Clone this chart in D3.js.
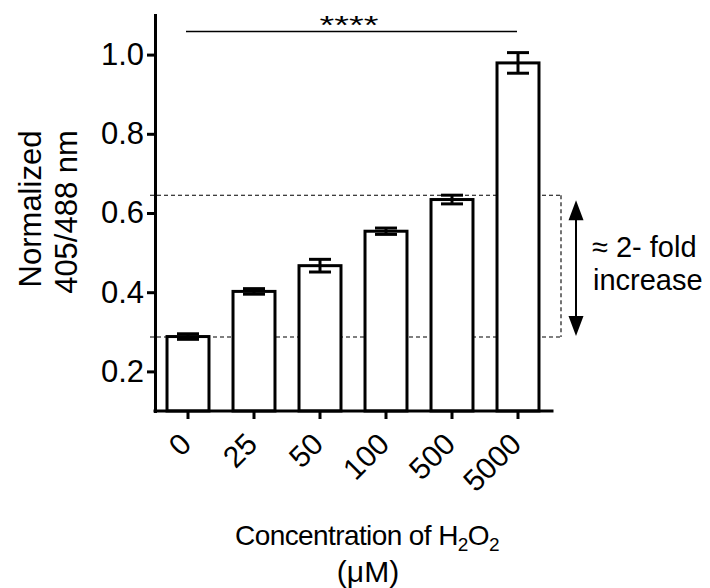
<!DOCTYPE html>
<html>
<head>
<meta charset="utf-8">
<script src="https://cdn.jsdelivr.net/npm/d3@7"></script>
<style>
  html, body { margin: 0; padding: 0; background: #fff; }
  svg { display: block; }
  text { font-family: "Liberation Sans", Arial, Helvetica, sans-serif; fill: #000; }
</style>
</head>
<body>
<svg id="chart" width="710" height="588"></svg>
<script>
// ---- data ----
const categories = ["0", "25", "50", "100", "500", "5000"];
const means = [0.288, 0.402, 0.467, 0.554, 0.634, 0.979];
const errors = [0.007, 0.007, 0.016, 0.008, 0.011, 0.026];
const yTicks = [0.2, 0.4, 0.6, 0.8, 1.0];
const yDomain = [0.1, 1.1];
const bracketLevels = [0.287, 0.645];   // dashed box bottom / top
const sigLabel = "****";
const foldLines = ["\u2248 2- fold", "increase"];

// ---- layout ----
const svg = d3.select("#chart");
const x = d3.scaleBand().domain(categories).range([155, 551])
  .paddingInner(0.364).paddingOuter(0.182);
const y = d3.scaleLinear().domain(yDomain).range([411, 15]);

const black = "#000";

// dashed box
const boxRight = 561;
svg.append("g").selectAll("line.hd").data(bracketLevels).join("line")
  .attr("x1", 150).attr("x2", boxRight)
  .attr("y1", d => y(d)).attr("y2", d => y(d))
  .attr("stroke", "#000").attr("stroke-width", 1.1)
  .attr("stroke-dasharray", "4,3");
svg.append("line")
  .attr("x1", boxRight).attr("x2", boxRight)
  .attr("y1", y(bracketLevels[1])).attr("y2", y(bracketLevels[0]))
  .attr("stroke", "#000").attr("stroke-width", 1.1)
  .attr("stroke-dasharray", "4,3");

// bars
svg.append("g").selectAll("rect").data(means).join("rect")
  .attr("x", (d, i) => x(categories[i]))
  .attr("width", x.bandwidth())
  .attr("y", d => y(d))
  .attr("height", d => y(yDomain[0]) - y(d))
  .attr("fill", "#fff").attr("stroke", black).attr("stroke-width", 3);

// error bars
const capW = 22;
const eb = svg.append("g").selectAll("g").data(means).join("g");
eb.append("line")
  .attr("x1", (d, i) => x(categories[i]) + x.bandwidth() / 2)
  .attr("x2", (d, i) => x(categories[i]) + x.bandwidth() / 2)
  .attr("y1", (d, i) => y(d + errors[i]))
  .attr("y2", (d, i) => y(d - errors[i]))
  .attr("stroke", black).attr("stroke-width", 3);
[1, -1].forEach(s => {
  eb.append("line")
    .attr("x1", (d, i) => x(categories[i]) + x.bandwidth() / 2 - capW / 2)
    .attr("x2", (d, i) => x(categories[i]) + x.bandwidth() / 2 + capW / 2)
    .attr("y1", (d, i) => y(d + s * errors[i]))
    .attr("y2", (d, i) => y(d + s * errors[i]))
    .attr("stroke", black).attr("stroke-width", 3);
});

// axes
const yAxis = svg.append("g").attr("transform", "translate(155,0)")
  .call(d3.axisLeft(y).tickValues(yTicks).tickFormat(d3.format(".1f"))
    .tickSize(8).tickSizeOuter(0).tickPadding(3));
const xAxis = svg.append("g").attr("transform", "translate(0,411)")
  .call(d3.axisBottom(x).tickSize(8).tickSizeOuter(0));

[yAxis, xAxis].forEach(g => {
  g.select(".domain").attr("stroke", black).attr("stroke-width", 3)
    .attr("stroke-linecap", "square");
  g.selectAll(".tick line").attr("stroke", black).attr("stroke-width", 3);
  g.selectAll(".tick text").attr("fill", black)
    .style("font-family", '"Liberation Sans", Arial, sans-serif');
});
yAxis.selectAll(".tick text").style("font-size", "31px");
xAxis.select(".domain").attr("d", "M155,0H552");
xAxis.selectAll(".tick text")
  .style("font-size", "30px")
  .attr("x", 0).attr("y", 0).attr("dy", 0)
  .attr("text-anchor", "end")
  .attr("transform", "translate(5,35) rotate(-45)");

// y axis title
svg.append("text").attr("transform", "translate(41,209) rotate(-90)")
  .attr("text-anchor", "middle").style("font-size", "31px").text("Normalized");
svg.append("text").attr("transform", "translate(77,212) rotate(-90)")
  .attr("text-anchor", "middle").style("font-size", "31px").text("405/488 nm");

// x axis title
const xt = svg.append("text").attr("x", 367).attr("y", 545)
  .attr("text-anchor", "middle").style("font-size", "28px")
  .style("letter-spacing", "-0.6px");
xt.append("tspan").text("Concentration of H");
xt.append("tspan").attr("dy", 6).style("font-size", "19px").text("2");
xt.append("tspan").attr("dy", -6).text("O");
xt.append("tspan").attr("dy", 6).style("font-size", "19px").text("2");
svg.append("text").attr("x", 368).attr("y", 582)
  .attr("text-anchor", "middle").style("font-size", "30px").text("(\u03BCM)");

// significance line
const xFirst = x(categories[0]) + x.bandwidth() / 2;
const xLast = x(categories[categories.length - 1]) + x.bandwidth() / 2;
svg.append("line").attr("x1", xFirst - 2).attr("x2", xLast - 1)
  .attr("y1", 31.5).attr("y2", 31.5)
  .attr("stroke", black).attr("stroke-width", 1.3);
svg.append("text")
  .attr("transform", `translate(${(xFirst + xLast) / 2 - 4},33.5) scale(1.05,0.7)`)
  .attr("text-anchor", "middle").style("font-size", "36px").text(sigLabel);

// double arrow
const ax = 576;
const yTop = y(bracketLevels[1]) + 5, yBot = y(bracketLevels[0]) - 1;
const headH = 20, headW = 15;
svg.append("line").attr("x1", ax).attr("x2", ax)
  .attr("y1", yTop + headH - 2).attr("y2", yBot - headH + 2)
  .attr("stroke", black).attr("stroke-width", 2);
svg.append("path")
  .attr("d", `M${ax},${yTop}L${ax - headW / 2},${yTop + headH}L${ax + headW / 2},${yTop + headH}Z`)
  .attr("fill", black);
svg.append("path")
  .attr("d", `M${ax},${yBot}L${ax - headW / 2},${yBot - headH}L${ax + headW / 2},${yBot - headH}Z`)
  .attr("fill", black);

// fold text
svg.append("text").attr("x", 592).attr("y", 257).style("font-size", "29px").text(foldLines[0]);
svg.append("text").attr("x", 593).attr("y", 290).style("font-size", "29px").text(foldLines[1]);
</script>
</body>
</html>
